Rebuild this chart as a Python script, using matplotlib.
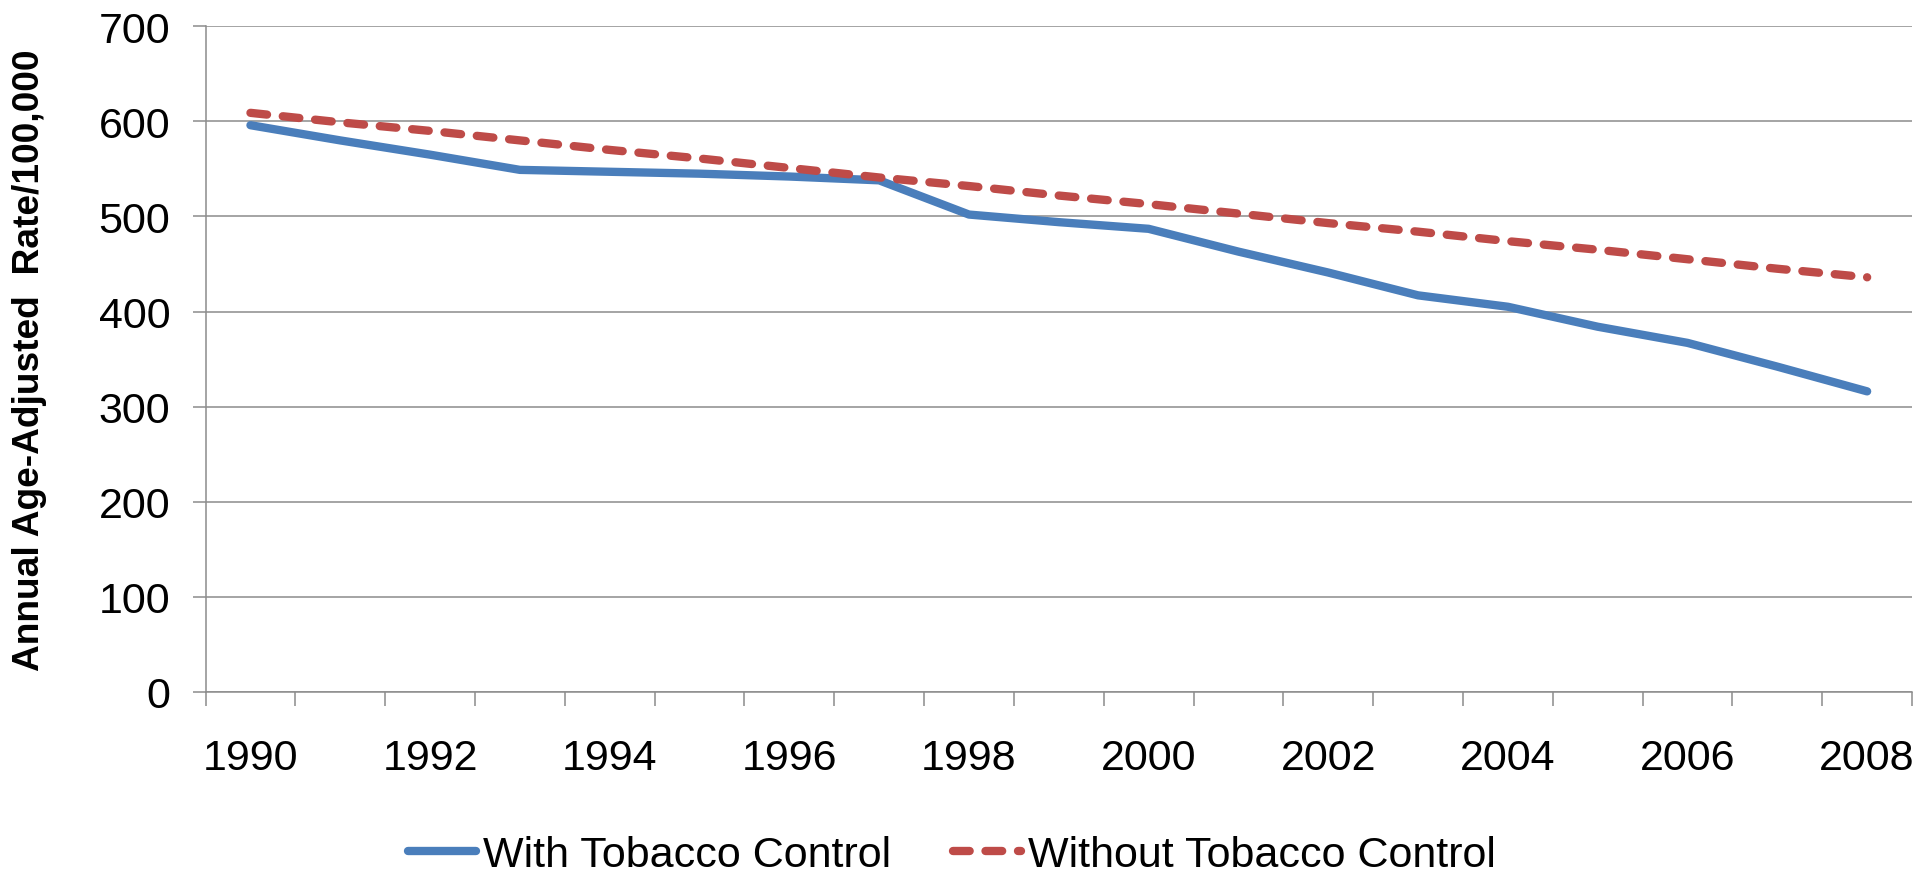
"""Annual age-adjusted rate per 100,000, with vs without tobacco control, 1990-2008."""
import numpy as np
import matplotlib
matplotlib.use("Agg")
import matplotlib.pyplot as plt

plt.rcParams["font.family"] = ["Liberation Sans", "DejaVu Sans"]

YEARS = list(range(1990, 2009))
WITH_TC = [596, 580, 565, 549, 547, 545, 542, 538, 502, 494, 487,
           463, 441, 417, 405, 384, 367, 342, 316]
WITHOUT_TC = [609, 599, 590, 580, 570, 561, 551, 541, 532, 522, 513,
              503, 493, 484, 474, 465, 455, 445, 436]
LABELS = ["With Tobacco Control", "Without Tobacco Control"]
YTICKS = [0, 100, 200, 300, 400, 500, 600, 700]

BLUE = "#4A7EBB"
RED = "#BE4B48"
GRID = "#8c8c8c"
FS = 31


def main():
    fig = plt.figure(figsize=(19.3, 8.79), dpi=100)
    ax = fig.add_axes([0.1065, 0.2119, 0.8842, 0.757])

    x = np.arange(len(YEARS))
    ax.plot(x, WITH_TC, color=BLUE, lw=6, solid_capstyle="round",
            solid_joinstyle="round", label=LABELS[0])
    ax.plot(x, WITHOUT_TC, color=RED, lw=6, dashes=(2.0, 1.9),
            dash_capstyle="round", label=LABELS[1])

    ax.set_xlim(-0.5, len(YEARS) - 0.5)
    ax.set_ylim(0, 700)

    # y axis: grid + outward ticks
    ax.set_yticks(YTICKS)
    ax.set_yticklabels([str(v) for v in YTICKS])
    ax.yaxis.grid(True, color=GRID, lw=1.1)
    ax.set_axisbelow(True)
    ax.tick_params(axis="y", length=9.4, width=1.1, color=GRID,
                   pad=16, labelsize=FS)

    # x axis: ticks between categories, labels every other year
    ax.set_xticks(np.arange(-0.5, len(YEARS), 1.0))
    ax.set_xticklabels([])
    ax.tick_params(axis="x", which="major", length=10, width=1.1,
                   color=GRID)
    ax.set_xticks(x[::2], minor=True)
    ax.set_xticklabels([str(y) for y in YEARS[::2]], minor=True)
    ax.tick_params(axis="x", which="minor", length=0, pad=33,
                   labelsize=FS)

    for s in ("top", "right"):
        ax.spines[s].set_visible(False)
    for s in ("left", "bottom"):
        ax.spines[s].set_color(GRID)
        ax.spines[s].set_linewidth(1.1)

    ax.set_ylabel("Annual Age-Adjusted  Rate/100,000", fontsize=26.7,
                  fontweight="bold")
    ax.yaxis.set_label_coords(-0.093, 0.5)

    handles, labels = ax.get_legend_handles_labels()
    fig.legend(handles, labels, loc="center", bbox_to_anchor=(0.4933, 0.026),
               ncol=2, frameon=False, fontsize=FS, handlelength=1.58,
               handletextpad=0.16, columnspacing=1.44, borderpad=0.2)

    fig.savefig("out.png", dpi=100)


if __name__ == "__main__":
    main()
